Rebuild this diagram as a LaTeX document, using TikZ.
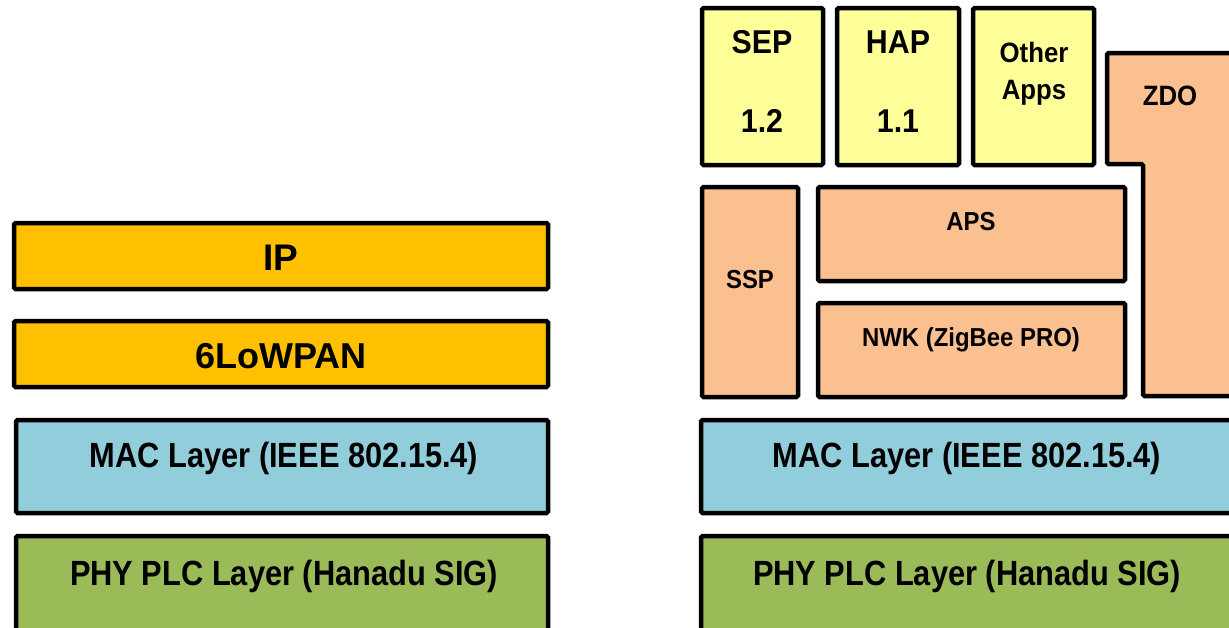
\documentclass[tikz,border=0pt]{standalone}
\usepackage{fontspec}
\setmainfont{Liberation Sans}
\newfontfamily\condfont{Liberation Sans}[FakeStretch=0.88]
\newfontfamily\semifont{Liberation Sans}[FakeStretch=0.92]
\definecolor{gold}{HTML}{FFC000}
\definecolor{macblue}{HTML}{92CDDC}
\definecolor{phygreen}{HTML}{9BBB59}
\definecolor{appyellow}{HTML}{FFFF99}
\definecolor{peach}{HTML}{FAC090}
\tikzset{
  layer/.style={draw=black, line width=4.5pt, rounded corners=1.5pt, inner sep=0pt, outer sep=0pt},
  boxat/.style n args={4}{layer, minimum width=#3-#1, minimum height=#4-#2, anchor=north west},
  lbl/.style={anchor=base, inner sep=0pt, font=\bfseries},
}
\begin{document}
\begin{tikzpicture}[x=1pt,y=-1pt]
\useasboundingbox (0,0) rectangle (1229,627);
\clip (0,0) rectangle (1229,627);
% left stack
\node[boxat={14}{223}{548}{289}, fill=gold] (ip) at (14,223) {};
\node[boxat={14}{321}{548}{387}, fill=gold] (lowpan) at (14,321) {};
\node[boxat={16}{420}{548}{513}, fill=macblue] (macL) at (16,420) {};
\node[boxat={16}{536}{548}{660}, fill=phygreen] (phyL) at (16,536) {};
\node[lbl, font=\bfseries\fontsize{37}{40}\selectfont] (ipT) at (281,270) {IP};
\node[lbl, font=\bfseries\fontsize{36}{40}\selectfont] (lowpanT) at (281,368) {6LoWPAN};
\node[lbl, font=\condfont\bfseries\fontsize{35}{40}\selectfont] (macLT) at (284,467) {MAC Layer (IEEE 802.15.4)};
\node[lbl, font=\condfont\bfseries\fontsize{35}{40}\selectfont] (phyLT) at (284,585) {PHY PLC Layer (Hanadu SIG)};
% right stack
\node[boxat={702}{8}{823}{165}, fill=appyellow] (sep) at (702,8) {};
\node[boxat={837}{8}{959}{165}, fill=appyellow] (hap) at (837,8) {};
\node[boxat={973}{8}{1094}{165}, fill=appyellow] (oth) at (973,8) {};
\draw[layer, fill=peach] (1107,53) -- (1250,53) -- (1250,396) -- (1143,396) -- (1143,164) -- (1107,164) -- cycle;
\node[boxat={702}{187}{798}{397}, fill=peach] (ssp) at (702,187) {};
\node[boxat={818}{187}{1125}{281}, fill=peach] (aps) at (818,187) {};
\node[boxat={818}{303}{1125}{397}, fill=peach] (nwk) at (818,303) {};
\node[boxat={701}{420}{1260}{513}, fill=macblue] (macR) at (701,420) {};
\node[boxat={701}{536}{1260}{660}, fill=phygreen] (phyR) at (701,536) {};
\node[lbl, font=\semifont\bfseries\fontsize{33}{40}\selectfont] (sepT) at (762,53) {SEP};
\node[lbl, font=\semifont\bfseries\fontsize{33}{40}\selectfont] (sepV) at (762,132) {1.2};
\node[lbl, font=\semifont\bfseries\fontsize{33}{40}\selectfont] (hapT) at (898,53) {HAP};
\node[lbl, font=\semifont\bfseries\fontsize{33}{40}\selectfont] (hapV) at (898,132) {1.1};
\node[lbl, font=\semifont\bfseries\fontsize{28}{32}\selectfont] (othT) at (1034,62) {Other};
\node[lbl, font=\semifont\bfseries\fontsize{28}{32}\selectfont] (othA) at (1034,99) {Apps};
\node[lbl, font=\semifont\bfseries\fontsize{28}{32}\selectfont] (zdoT) at (1170,105) {ZDO};
\node[lbl, font=\semifont\bfseries\fontsize{26}{30}\selectfont] (apsT) at (971,230) {APS};
\node[lbl, font=\semifont\bfseries\fontsize{26}{30}\selectfont] (sspT) at (750,288) {SSP};
\node[lbl, font=\semifont\bfseries\fontsize{26}{30}\selectfont] (nwkT) at (971,346) {NWK (ZigBee PRO)};
\node[lbl, font=\condfont\bfseries\fontsize{35}{40}\selectfont] (macRT) at (967,467) {MAC Layer (IEEE 802.15.4)};
\node[lbl, font=\condfont\bfseries\fontsize{35}{40}\selectfont] (phyRT) at (967,585) {PHY PLC Layer (Hanadu SIG)};
\end{tikzpicture}
\end{document}
